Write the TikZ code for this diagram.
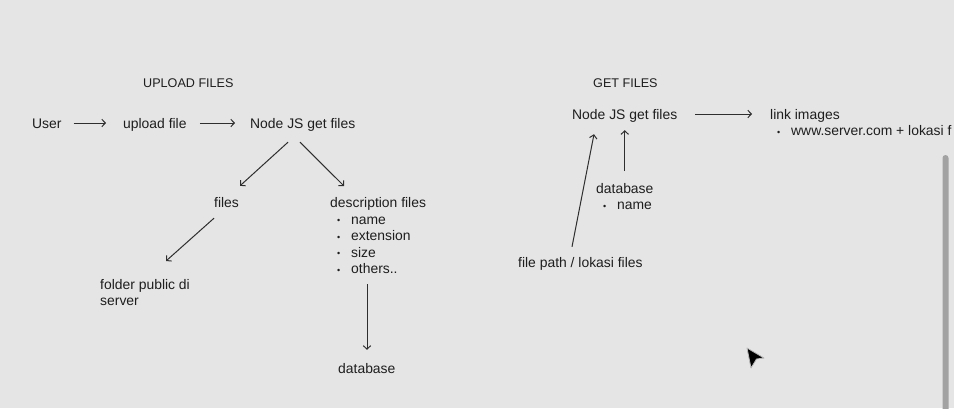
\documentclass[tikz,border=0pt]{standalone}
\usepackage{fontspec}
\setmainfont{Liberation Sans}
\usetikzlibrary{arrows.meta}
\definecolor{bgc}{HTML}{E5E5E5}
\definecolor{txtc}{HTML}{1E1E1E}
\definecolor{linec}{HTML}{2E2E2E}
\definecolor{barc}{HTML}{A2A2A2}
\newcommand\lbul{\hspace*{7pt}\makebox[14pt][l]{\raisebox{0.5pt}{\fontsize{9}{9}\selectfont •}}}
\tikzset{
  txt/.style={anchor=west, inner sep=0pt, text height=10pt, text depth=1pt, text=txtc, font=\fontsize{13.9}{16.5}\selectfont},
  hdr/.style={anchor=west, inner sep=0pt, text height=10pt, text depth=1pt, text=txtc, font=\fontsize{12.6}{15}\selectfont},
  lst/.style={anchor=base west, inner sep=0pt, text=txtc, font=\fontsize{13.9}{16.5}\selectfont},
  arr/.style={draw=linec, line width=1pt, -{Straight Barb[length=3.5pt,width=7.5pt,line width=1pt]}},
}
\begin{document}
\begin{tikzpicture}[x=1pt,y=-1pt]
\useasboundingbox (0,0) rectangle (954,408);
\fill[bgc] (0,0) rectangle (954,408);
\begin{scope}
\clip (0,0) rectangle (954,408);
% ---------- UPLOAD FILES ----------
\node[hdr] (uph) at (143,82.5) {UPLOAD FILES};
\node[txt] (user) at (32,123.5) {User};
\node[txt] (upl) at (123,123.5) {upload file};
\node[txt] (nj) at (250,123.5) {Node JS get files};
\node[txt] (files) at (214,202.5) {files};
\node[lst] (desc) at (330,207.5) {\begin{tabular}[t]{@{}l@{}}description files\\ \lbul name\\ \lbul extension\\ \lbul size\\ \lbul others..\end{tabular}};
\node[lst] (folder) at (100,289) {\begin{tabular}[t]{@{}l@{}}folder public di\\ server\end{tabular}};
\node[txt] (db) at (338,368.5) {database};

\draw[arr] ([xshift=12pt,yshift=0.5pt]user.east) -- ([xshift=-17pt,yshift=0.5pt]upl.west);
\draw[arr] ([xshift=13pt,yshift=0.5pt]upl.east) -- ([xshift=-15pt,yshift=0.5pt]nj.west);
\draw[arr] ([xshift=38pt,yshift=-13pt]nj.south west) -- ([xshift=26pt,yshift=11pt]files.north west);
\draw[arr] ([xshift=50pt,yshift=-13pt]nj.south west) -- ([xshift=14pt,yshift=21.5pt]desc.base west);
\draw[arr] ([yshift=-10pt]files.south west) -- ([xshift=66pt,yshift=28pt]folder.base west);
\coordinate (dtop) at ([xshift=37pt,yshift=-76.5pt]desc.base west);
\coordinate (dend) at ([yshift=13pt]db.north);
\draw[arr] (dtop) -- (dtop |- dend);

% ---------- GET FILES ----------
\node[hdr] (gfh) at (593,82.5) {GET FILES};
\node[txt] (nj2) at (572,114.5) {Node JS get files};
\node[lst] (link) at (770,119) {\begin{tabular}[t]{@{}l@{}}link images\\ \lbul www.server.com + lokasi f\end{tabular}};
\node[lst] (db2) at (596,193) {\begin{tabular}[t]{@{}l@{}}database\\ \lbul name\end{tabular}};
\node[txt] (fp) at (518,262.5) {file path / lokasi files};

\draw[arr] ([xshift=18pt,yshift=0.5pt]nj2.east) -- ([xshift=-18pt,yshift=0.5pt]nj2.east -| link.west);
\coordinate (dbtop) at ([yshift=22pt]db2.base west);
\draw[arr] (dbtop -| nj2.south) -- ([yshift=-10pt]nj2.south);
\draw[arr] ([xshift=54pt,yshift=10pt]fp.north west) -- ([xshift=22pt,yshift=-14pt]nj2.south west);

% ---------- scrollbar and cursor ----------
\fill[barc, rounded corners=3pt] (942.5,155) rectangle (948.5,412);
\filldraw[fill=black, draw=gray!55, line width=0.8pt, line join=round]
  (747,348) -- (764,358) -- (756.5,359) -- (751,368) -- cycle;
\end{scope}
\end{tikzpicture}
\end{document}
